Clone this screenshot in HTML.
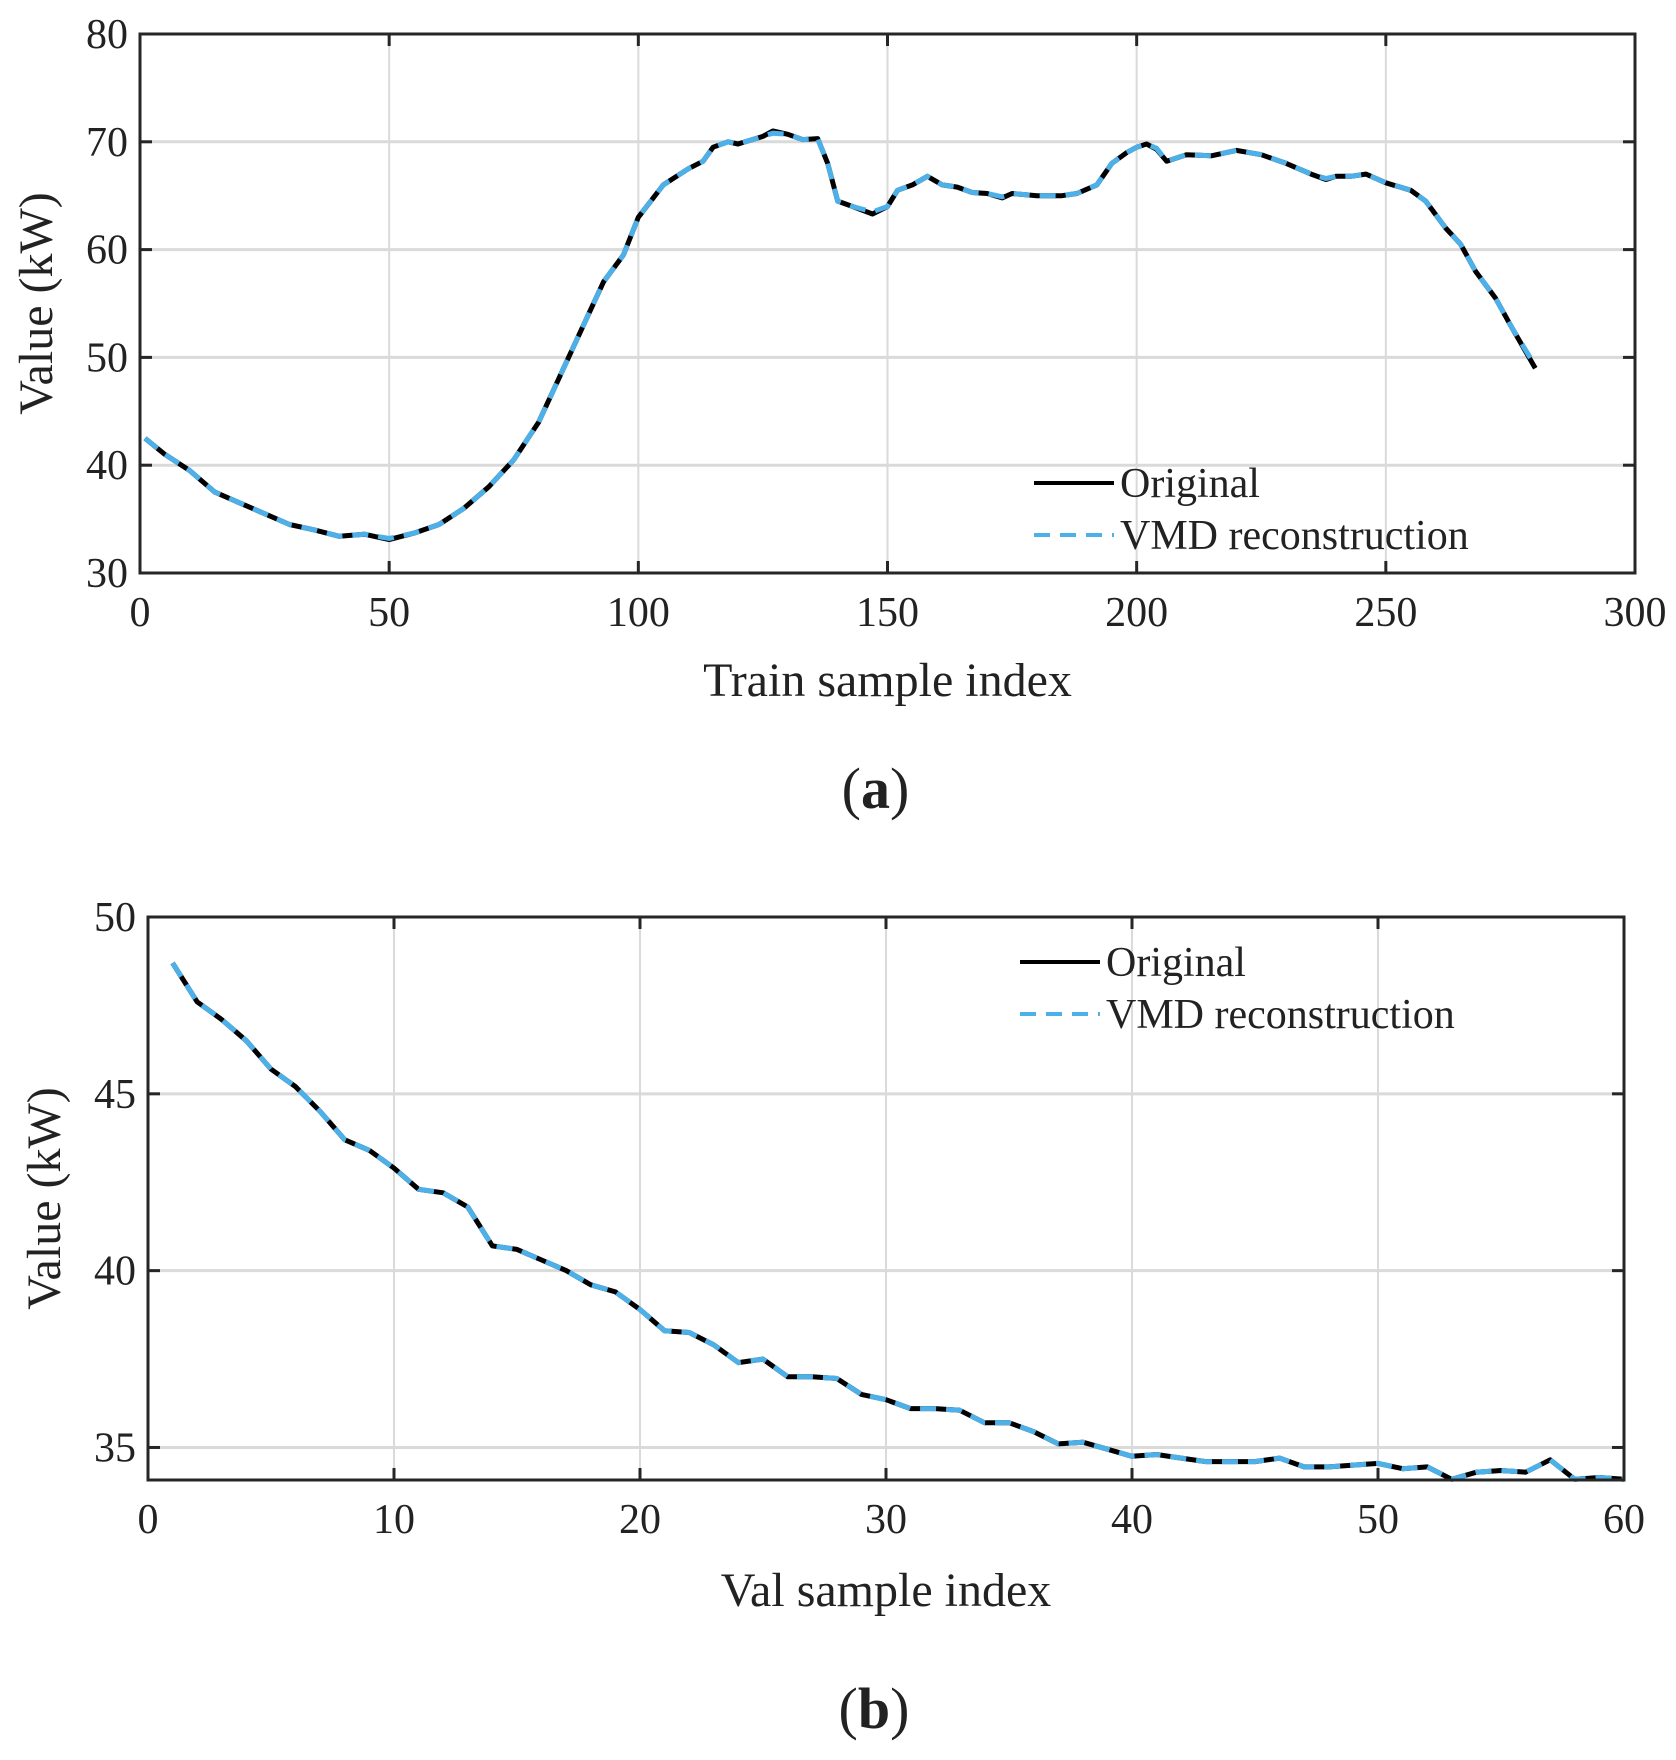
<!DOCTYPE html>
<html><head><meta charset="utf-8"><style>
body{margin:0;background:#fff}
svg text{font-family:"Liberation Serif",serif;fill:#222}
</style></head><body>
<svg width="1676" height="1755" viewBox="0 0 1676 1755" xmlns="http://www.w3.org/2000/svg" id="fig"></svg>
<script>
const trainX=[1,5,10,15,20,25,30,35,40,45,50,55,60,65,70,75,80,85,90,93,97,100,105,110,113,115,118,120,125,127,130,133,136,138,140,143,147,150,152,155,158,161,164,167,170,173,175,180,185,188,192,195,198,200,202,204,206,210,215,220,225,230,235,238,240,243,246,250,255,258,262,265,268,272,275,280];
const trainOrig=[42.5,41,39.5,37.5,36.5,35.5,34.5,34,33.4,33.6,33.1,33.7,34.5,36,38,40.5,44,49,54,57,59.5,63,66,67.5,68.2,69.5,70,69.8,70.5,71,70.7,70.2,70.3,68,64.5,64,63.3,64,65.5,66,66.8,66,65.8,65.3,65.2,64.8,65.2,65,65,65.2,66,68,69,69.5,69.8,69.3,68.2,68.8,68.7,69.2,68.8,68,67,66.5,66.8,66.8,67,66.2,65.5,64.5,62,60.5,58,55.5,53,49];
const trainVmd=[42.5,41,39.5,37.5,36.5,35.5,34.5,34,33.4,33.6,33.2,33.7,34.5,36,38,40.5,44,49,54,57,59.5,63,66,67.5,68.2,69.5,70,69.8,70.5,70.8,70.7,70.2,70.3,68,64.5,64,63.5,64,65.5,66,66.8,66,65.8,65.3,65.2,64.9,65.2,65,65,65.2,66,68,69,69.5,69.8,69.4,68.2,68.8,68.7,69.2,68.8,68,67,66.6,66.8,66.8,67,66.2,65.5,64.5,62,60.5,58,55.5,53,49.2];
const valOrig=[48.7,47.6,47.1,46.5,45.7,45.2,44.5,43.7,43.4,42.9,42.3,42.2,41.8,40.7,40.6,40.3,40.0,39.6,39.4,38.9,38.3,38.25,37.9,37.4,37.5,37.0,37.0,36.95,36.5,36.35,36.1,36.1,36.05,35.7,35.7,35.45,35.1,35.15,34.95,34.75,34.8,34.7,34.6,34.6,34.6,34.7,34.45,34.45,34.5,34.55,34.4,34.45,34.1,34.3,34.35,34.3,34.65,34.1,34.15,34.1];
const valVmd=valOrig.slice();
const trainXTicks=[0,50,100,150,200,250,300];
const trainYTicks=[30,40,50,60,70,80];
const valXTicks=[0,10,20,30,40,50,60];
const valYTicks=[35,40,45,50];

const NS="http://www.w3.org/2000/svg";
const svg=document.getElementById('fig');
function mk(tag,attrs,parent){const e=document.createElementNS(NS,tag);for(const k in attrs)e.setAttribute(k,attrs[k]);(parent||svg).appendChild(e);return e;}

function plot(cfg){
  const g=mk('g',{});
  
  
  const {L,R,T,B,x0,x1,y0,y1}=cfg;
  const sx=v=>L+(v-x0)/(x1-x0)*(R-L);
  const sy=v=>B-(v-y0)/(y1-y0)*(B-T);
  cfg.xt.forEach(v=>{
    if(v>x0&&v<x1){const l=mk('line',{x1:sx(v),x2:sx(v),y1:T,y2:B,stroke:'#dadada','stroke-width':2},g);
    }
    mk('line',{x1:sx(v),x2:sx(v),y1:B,y2:B-12,stroke:'#262626','stroke-width':3},g);
    mk('line',{x1:sx(v),x2:sx(v),y1:T,y2:T+12,stroke:'#262626','stroke-width':3},g);
    const t=mk('text',{x:sx(v),y:B+53,'text-anchor':'middle','font-size':42},g);t.textContent=v;
    
  });
  cfg.yt.forEach(v=>{
    if(v>y0&&v<y1){const l=mk('line',{x1:L,x2:R,y1:sy(v),y2:sy(v),stroke:'#dadada','stroke-width':3},g);
    }
    mk('line',{x1:L,x2:L+12,y1:sy(v),y2:sy(v),stroke:'#262626','stroke-width':3},g);
    mk('line',{x1:R,x2:R-12,y1:sy(v),y2:sy(v),stroke:'#262626','stroke-width':3},g);
    const t=mk('text',{x:L-12,y:sy(v)+14,'text-anchor':'end','font-size':42},g);t.textContent=v;
    
  });
  const pts=(xs,ys)=>ys.map((y,i)=>sx(xs[i]).toFixed(1)+','+sy(Math.max(y,y0)).toFixed(1)).join(' ');
  const o=mk('polyline',{points:pts(cfg.xs,cfg.orig),fill:'none',stroke:'#000','stroke-width':5,'stroke-linejoin':'round'},g);
  
  const v=mk('polyline',{points:pts(cfg.xs,cfg.vmd),fill:'none',stroke:'#4db0e8','stroke-width':5,'stroke-dasharray':'16 10'},g);
  
  const f=mk('rect',{x:L,y:T,width:R-L,height:B-T,fill:'none',stroke:'#262626','stroke-width':3},g);
  
  const xt=mk('text',{x:(L+R)/2,y:cfg.xtY,'text-anchor':'middle','font-size':48},g);xt.textContent=cfg.xlabel;
  
  const yc=(T+B)/2;
  const yt=mk('text',{x:cfg.ytX,y:yc,'text-anchor':'middle','font-size':48,transform:`rotate(-90 ${cfg.ytX} ${yc})`},g);yt.textContent='Value (kW)';
  
  const lg=mk('g',{},g);
  
  mk('line',{x1:cfg.lgX,x2:cfg.lgX+80,y1:cfg.lgY,y2:cfg.lgY,stroke:'#000','stroke-width':4},lg);
  mk('line',{x1:cfg.lgX,x2:cfg.lgX+80,y1:cfg.lgY+52,y2:cfg.lgY+52,stroke:'#4db0e8','stroke-width':4,'stroke-dasharray':'16 10'},lg);
  const t1=mk('text',{x:cfg.lgX+86,y:cfg.lgY+14,'font-size':42},lg);t1.textContent='Original';
  
  const t2=mk('text',{x:cfg.lgX+86,y:cfg.lgY+66,'font-size':42},lg);t2.textContent='VMD reconstruction';
  
  const c=mk('text',{x:(L+R)/2-12,y:cfg.capY,'text-anchor':'middle','font-size':58},g);
  c.innerHTML='(<tspan font-weight="bold">'+cfg.cap+'</tspan>)';
  
}
plot({name:'train-chart',L:140,R:1635,T:34,B:573,x0:0,x1:300,y0:30,y1:80,xt:trainXTicks,yt:trainYTicks,
  xs:trainX,orig:trainOrig,vmd:trainVmd,xlabel:'Train sample index',xtY:696,ytX:52,lgX:1034,lgY:483,capY:808,cap:'a'});
const valX=valOrig.map((_,i)=>i+1);
plot({name:'val-chart',L:148,R:1624,T:917,B:1480,x0:0,x1:60,y0:34.08,y1:50,xt:valXTicks,yt:valYTicks,
  xs:valX,orig:valOrig,vmd:valVmd,xlabel:'Val sample index',xtY:1606,ytX:60,lgX:1020,lgY:962,capY:1728,cap:'b'});
</script>
</body></html>
